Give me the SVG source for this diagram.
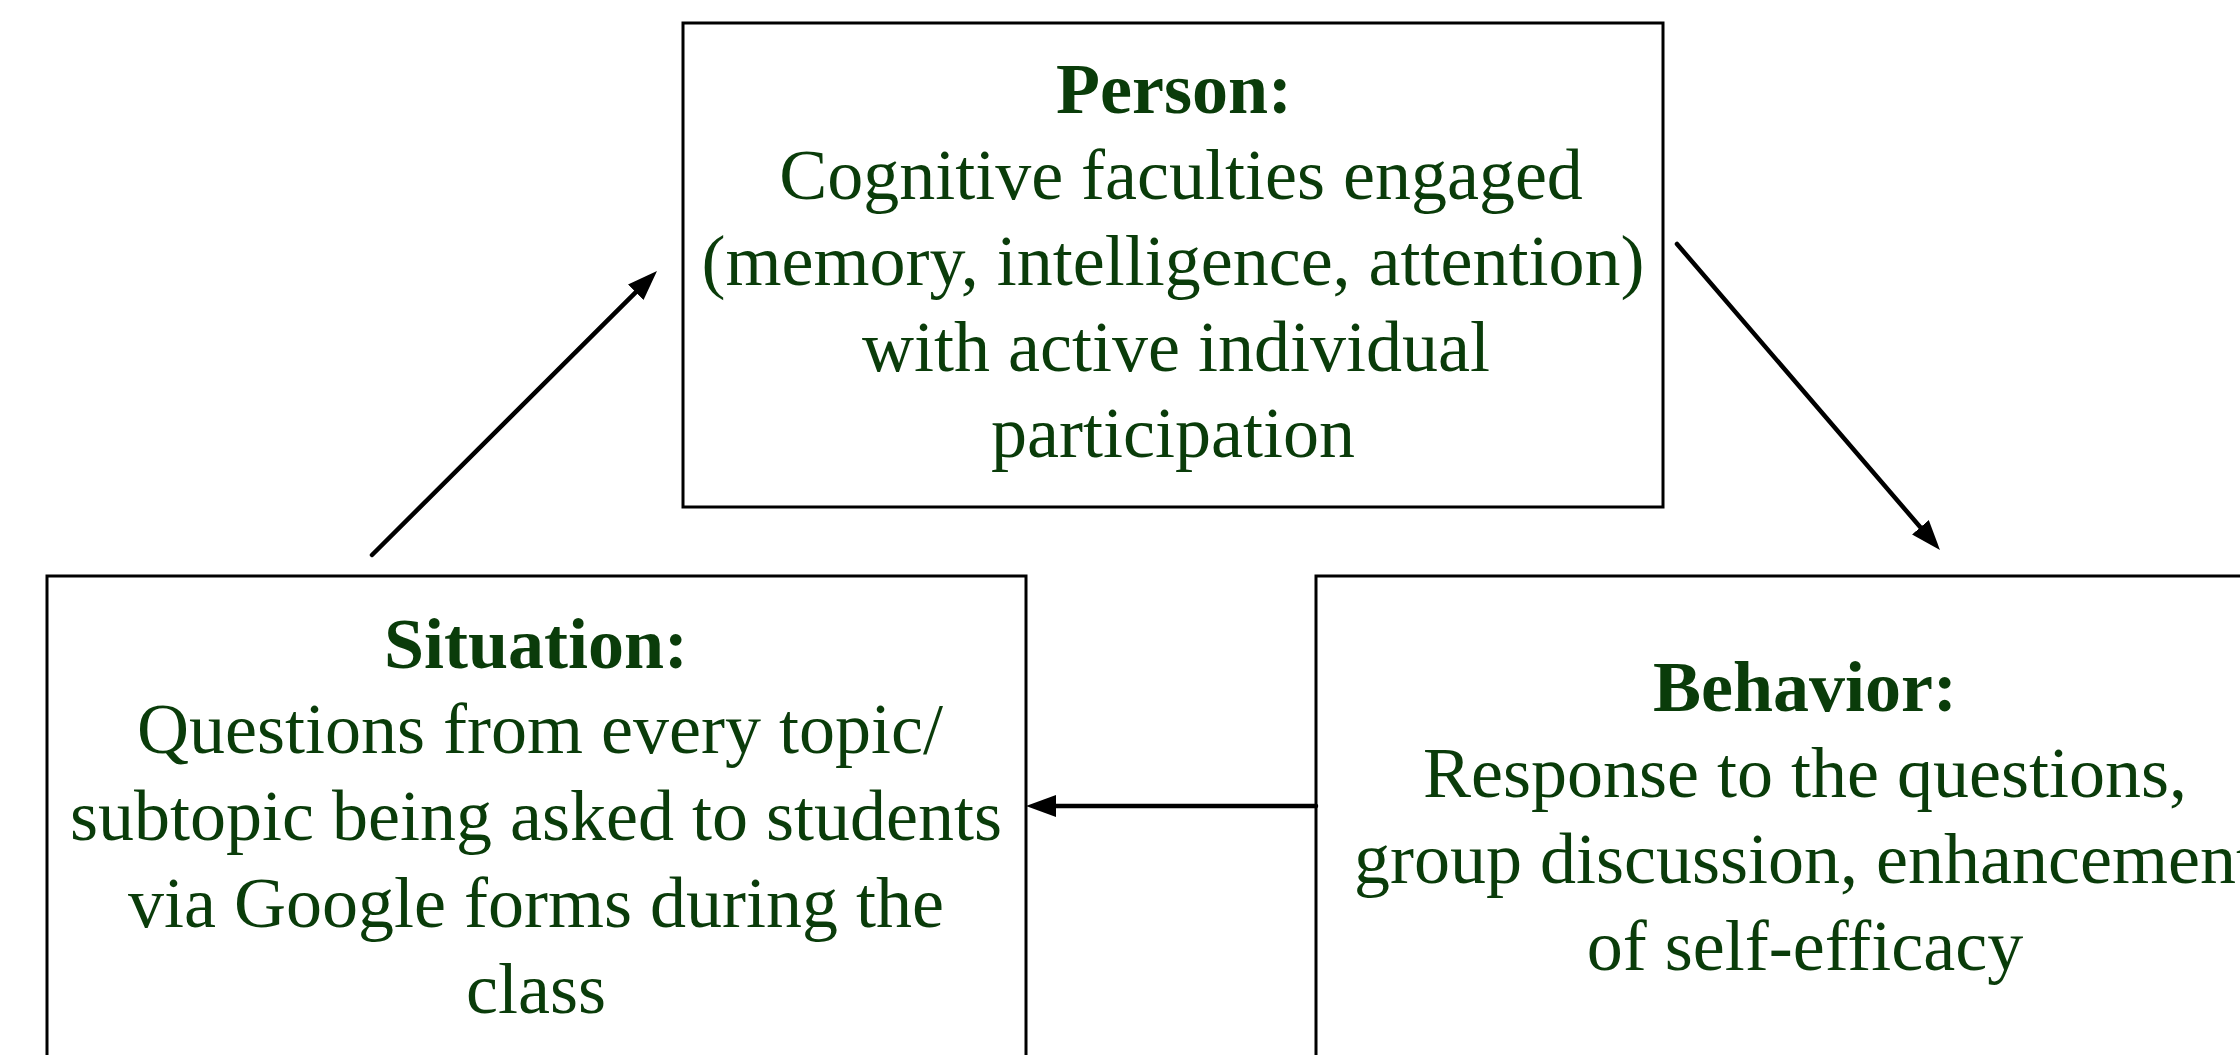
<svg xmlns="http://www.w3.org/2000/svg" width="2240" height="1055" viewBox="0 0 2240 1055">
<style>
.box{fill:#ffffff;stroke:#000000;stroke-width:3}
.t{font-family:"Liberation Serif","Times New Roman",serif;font-size:72px;fill:#0a3c0a;text-anchor:middle}
.b{font-weight:bold}
.c{fill:none;stroke:#000000;stroke-width:4.5;stroke-linecap:round}
</style>
<defs>
<marker id="ah" markerUnits="userSpaceOnUse" markerWidth="32" markerHeight="24" refX="19" refY="11" orient="auto">
<path d="M0,0 L30,11 L0,22 z" fill="#000000"/>
</marker>
</defs>
<rect width="2240" height="1055" fill="#ffffff"/>
<g id="person">
<rect class="box" x="683" y="23" width="980" height="484"/>
<text class="t b" x="1174" y="113">Person:</text>
<text class="t" x="1181" y="199">Cognitive faculties engaged</text>
<text class="t" x="1173" y="285">(memory, intelligence, attention)</text>
<text class="t" x="1176" y="371">with active individual</text>
<text class="t" x="1173" y="457">participation</text>
</g>
<g id="situation">
<rect class="box" x="47" y="576" width="979" height="520"/>
<text class="t b" x="536" y="668">Situation:</text>
<text class="t" x="540" y="753">Questions from every topic/</text>
<text class="t" x="536" y="840">subtopic being asked to students</text>
<text class="t" x="536" y="927">via Google forms during the</text>
<text class="t" x="536" y="1013">class</text>
</g>
<g id="behavior">
<rect class="box" x="1316" y="576" width="980" height="520"/>
<text class="t b" x="1805" y="711">Behavior:</text>
<text class="t" x="1805" y="797">Response to the questions,</text>
<text class="t" x="1805" y="883">group discussion, enhancement</text>
<text class="t" x="1805" y="970">of self-efficacy</text>
</g>
<g id="connectors">
<path class="c" d="M372,555 L649.2,278.8" marker-end="url(#ah)"/>
<path class="c" d="M1677,244 L1932.8,541.7" marker-end="url(#ah)"/>
<path class="c" d="M1316,806 L1037,806" marker-end="url(#ah)"/>
</g>
</svg>
